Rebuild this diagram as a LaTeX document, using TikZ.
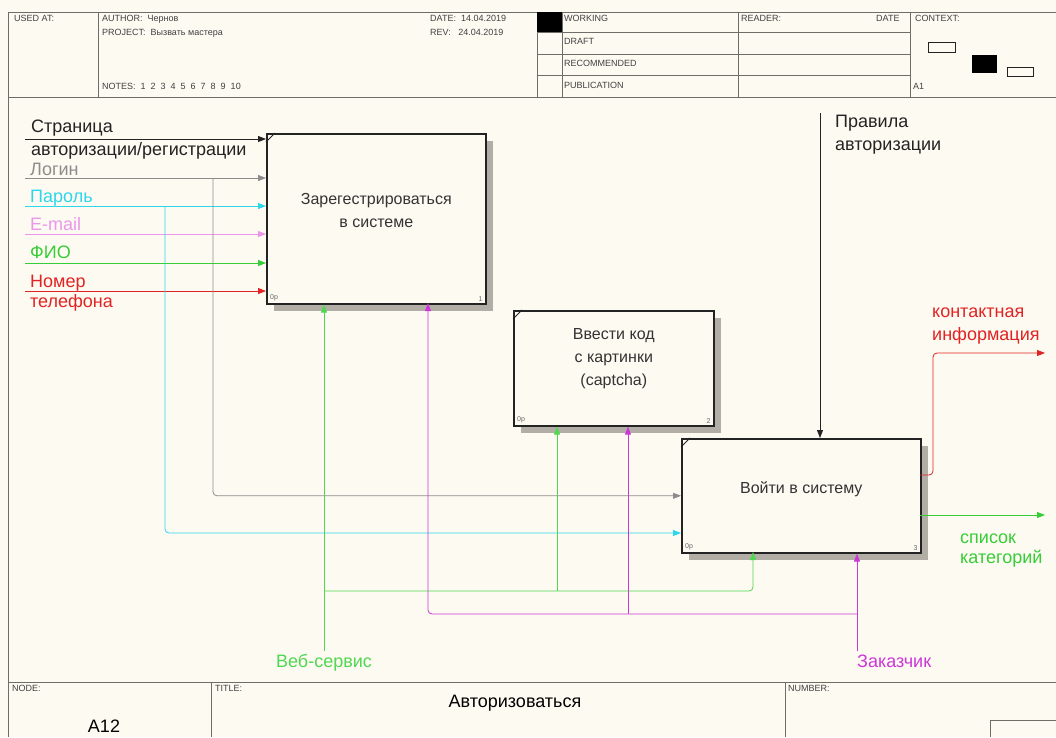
\documentclass[tikz,border=0pt]{standalone}
\usepackage{fontspec}
\setmainfont{Liberation Sans}
\usetikzlibrary{arrows.meta}
\definecolor{paper}{RGB}{253,250,242}
\definecolor{framec}{RGB}{110,110,105}
\definecolor{shadowc}{RGB}{178,174,166}
\definecolor{inkc}{RGB}{35,35,35}
\definecolor{loginc}{RGB}{140,140,140}
\definecolor{passc}{RGB}{45,215,235}
\definecolor{mailc}{RGB}{235,150,235}
\definecolor{fioc}{RGB}{55,205,55}
\definecolor{telc}{RGB}{225,35,35}
\definecolor{webc}{RGB}{80,215,80}
\definecolor{custc}{RGB}{205,55,215}
\begin{document}
\begin{tikzpicture}[x=1pt,y=-1pt,
  frame/.style={draw=framec, line width=0.9pt},
  hdr/.style={font=\fontsize{9}{10}\selectfont, text=black!75, anchor=base west, inner sep=0pt},
  lbl/.style={font=\fontsize{18}{20}\selectfont, anchor=base west, inner sep=0pt},
  proc/.style={draw=inkc, line width=1.6pt, fill=paper, anchor=north west, inner sep=0pt},
  proctext/.style={align=center, font=\fontsize{16}{23}\selectfont, text=black!80, inner sep=0pt},
  tiny/.style={font=\fontsize{7}{8}\selectfont, text=black!60, inner sep=0pt},
  flow/.style={line width=0.8pt, -{Triangle[length=8pt,width=6pt]}, rounded corners=4pt},
]
\useasboundingbox (0,0) rectangle (1056,737);
\fill[paper] (0,0) rectangle (1056,737);

% ---------- header form ----------
\draw[frame] (8,737) -- (8,12) -- (1056,12);
\draw[frame] (8,97) -- (1056,97);
\foreach \xx in {98,537,562,738,910} \draw[frame] (\xx,12) -- (\xx,97);
\foreach \yy in {32,54,75} \draw[frame] (537,\yy) -- (910,\yy);
\fill[black] (537,12) rectangle (562,32);
\node[hdr] (usedat) at (14,21) {USED AT:};
\node[hdr] (author) at (102,21) {AUTHOR:\ \ Чернов};
\node[hdr] (project) at (102,35) {PROJECT:\ \ Вызвать мастера};
\node[hdr] (notes) at (102,89) {NOTES:\ \ 1\ \ 2\ \ 3\ \ 4\ \ 5\ \ 6\ \ 7\ \ 8\ \ 9\ \ 10};
\node[hdr] (date) at (430,21) {DATE:\ \ 14.04.2019};
\node[hdr] (rev) at (430,35) {REV:\ \ \ 24.04.2019};
\node[hdr] (working) at (564,21) {WORKING};
\node[hdr] (draft) at (564,44) {DRAFT};
\node[hdr] (recom) at (564,66) {RECOMMENDED};
\node[hdr] (publ) at (564,88) {PUBLICATION};
\node[hdr] (reader) at (741,21) {READER:};
\node[hdr] (rdate) at (876,21) {DATE};
\node[hdr] (context) at (915,21) {CONTEXT:};
\node[hdr] (ctxnode) at (913,89) {A1};
\draw[line width=0.8pt, draw=inkc] (928,42) rectangle (955,52);
\fill[black] (972,55) rectangle (997,73);
\draw[line width=0.8pt, draw=inkc] (1007,67) rectangle (1033,76);

% ---------- footer form ----------
\draw[frame] (8,682) -- (1056,682);
\draw[frame] (211,682) -- (211,737);
\draw[frame] (785,682) -- (785,737);
\draw[frame] (990,737) -- (990,720) -- (1056,720);
\node[hdr] (nodelbl) at (12,691) {NODE:};
\node[hdr] (titlelbl) at (215,691) {TITLE:};
\node[hdr] (numlbl) at (788,691) {NUMBER:};
\node[font=\fontsize{18}{20}\selectfont, inner sep=0pt] (nodeno) at (104,726) {A12};
\node[font=\fontsize{18}{20}\selectfont, inner sep=0pt] (title) at (515,703) {Авторизоваться};

% ---------- activity boxes ----------
\fill[shadowc] (274,141) rectangle (493,311);
\fill[shadowc] (521,318) rectangle (721,433);
\fill[shadowc] (689,446) rectangle (928,560);
\node[proc, minimum width=219pt, minimum height=170pt] (b1) at (266,133) {};
\node[proc, minimum width=200pt, minimum height=115pt] (b2) at (513,310) {};
\node[proc, minimum width=239pt, minimum height=114pt] (b3) at (681,438) {};
\node[proctext] (b1t) at ([yshift=8pt]b1.center) {Зарегестрироваться\\в системе};
\node[proctext] (b2t) at ([yshift=10pt]b2.center) {Ввести код\\с картинки\\(captcha)};
\node[proctext] (b3t) at ([yshift=7pt]b3.center) {Войти в систему};
\foreach \b/\n in {b1/1,b2/2,b3/3}{
  \draw[line width=0.8pt, draw=inkc] ([yshift=-9pt]\b.north west) -- ([xshift=9pt]\b.north west);
  \node[tiny, anchor=south west] at ([xshift=4pt,yshift=3pt]\b.south west) {0р};
  \node[tiny, anchor=south east] at ([xshift=-4pt,yshift=3pt]\b.south east) {\n};
}

% ---------- inputs ----------
\coordinate (sPage) at (25,139);
\coordinate (sLogin) at (25,178);
\coordinate (sPass) at (25,206);
\coordinate (sMail) at (25,234);
\coordinate (sFio) at (25,263);
\coordinate (sTel) at (25,291);
\draw[flow, draw=inkc] (sPage) -- (sPage -| b1.west);
\draw[flow, draw=loginc] (sLogin) -- (sLogin -| b1.west);
\draw[flow, draw=passc] (sPass) -- (sPass -| b1.west);
\draw[flow, draw=mailc] (sMail) -- (sMail -| b1.west);
\draw[flow, draw=fioc] (sFio) -- (sFio -| b1.west);
\draw[flow, draw=telc] (sTel) -- (sTel -| b1.west);
\coordinate (jLogin) at (213,178);
\coordinate (jPass) at (165,206);
\coordinate (b3inPass) at (681,533);
\draw[flow, draw=loginc] (jLogin) |- (b3.west);
\draw[flow, draw=passc] (jPass) |- (b3inPass);

\node[lbl, text=inkc] (tPage1) at (31,132) {Страница};
\node[lbl, text=inkc] (tPage2) at (31,155) {авторизации/регистрации};
\node[lbl, text=loginc] (tLogin) at (30,175) {Логин};
\node[lbl, text=passc] (tPass) at (30,202) {Пароль};
\node[lbl, text=mailc] (tMail) at (30,230) {E-mail};
\node[lbl, text=fioc] (tFio) at (30,258) {ФИО};
\node[lbl, text=telc] (tTel1) at (30,287) {Номер};
\node[lbl, text=telc] (tTel2) at (30,307) {телефона};

% ---------- control ----------
\coordinate (sRule) at (820,113);
\draw[flow, draw=inkc] (sRule) -- (sRule |- b3.north);
\node[lbl, text=inkc] (tRule1) at (835,127) {Правила};
\node[lbl, text=inkc] (tRule2) at (835,150) {авторизации};

% ---------- mechanisms ----------
\coordinate (sWeb) at (324,651);
\coordinate (jWeb) at (324,591);
\coordinate (jWeb2) at (557,591);
\coordinate (b3mWeb) at (753,552);
\draw[flow, draw=webc] (sWeb) -- (sWeb |- b1.south);
\draw[flow, draw=webc] (jWeb) -| (b3mWeb);
\draw[flow, draw=webc] (jWeb2) -- (jWeb2 |- b2.south);
\node[lbl, text=webc, anchor=base] (tWeb) at (324,667) {Веб-сервис};

\coordinate (sCust) at (857,651);
\coordinate (jCust) at (857,614);
\coordinate (jCust2) at (628,614);
\coordinate (b1mCust) at (428,303);
\draw[flow, draw=custc] (sCust) -- (sCust |- b3.south);
\draw[flow, draw=custc] (jCust) -| (b1mCust);
\draw[flow, draw=custc] (jCust2) -- (jCust2 |- b2.south);
\node[lbl, text=custc] (tCust) at (857,667) {Заказчик};

% ---------- outputs ----------
\coordinate (b3oContact) at (920,475);
\coordinate (kContact) at (933,353);
\coordinate (eContact) at (1045,353);
\draw[flow, draw=telc] (b3oContact) -| (kContact) -- (eContact);
\node[lbl, text=telc] (tContact1) at (932,317) {контактная};
\node[lbl, text=telc] (tContact2) at (932,340) {информация};

\coordinate (b3oList) at (920,515);
\coordinate (eList) at (1045,515);
\draw[flow, draw=fioc] (b3oList) -- (eList);
\node[lbl, text=fioc] (tList1) at (960,543) {список};
\node[lbl, text=fioc] (tList2) at (960,563) {категорий};
\end{tikzpicture}
\end{document}
